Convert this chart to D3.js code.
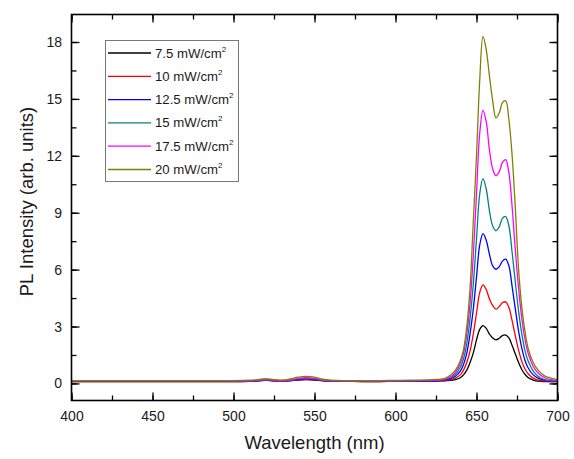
<!DOCTYPE html>
<html><head><meta charset="utf-8">
<script src="https://cdn.jsdelivr.net/npm/d3@7/dist/d3.min.js"></script>
<style>body{margin:0;background:#fff}svg{display:block}text{font-family:"Liberation Sans",Arial,sans-serif}</style>
</head><body><svg id="c" width="574" height="459"></svg>
<script>
const wavelengths = [400,420,440,460,480,500,510,515,520,525,530,535,540,545,550,555,560,570,580,590,600,610,620,625,
  630,634,637,640,642,644,646,648,650,652,654,656,658,660,662,664,666,668,670,672,674,676,678,680,682,685,688,692,696,700];
const seriesNames = ["7.5 mW/cm","10 mW/cm","12.5 mW/cm","15 mW/cm","17.5 mW/cm","20 mW/cm"];
const seriesColors = ["#000000","#ff0000","#0000ff","#008080","#ff00ff","#808000"];
const s75 = [0.1,0.1,0.1,0.1,0.1,0.1,0.11,0.13,0.16,0.13,0.12,0.14,0.18,0.2,0.18,0.14,0.12,0.11,0.1,0.1,0.11,0.11,0.12,0.12,
  0.13,0.16,0.2,0.3,0.45,0.7,1.1,1.6,2.3,2.85,3.05,2.9,2.6,2.4,2.3,2.38,2.52,2.55,2.4,2.0,1.55,1.1,0.72,0.47,0.3,0.18,0.12,0.1,0.1,0.1];
const s10 = [0.1,0.1,0.1,0.1,0.1,0.1,0.11,0.14,0.17,0.14,0.12,0.15,0.2,0.22,0.2,0.15,0.12,0.11,0.1,0.1,0.11,0.12,0.12,0.13,
  0.15,0.2,0.28,0.45,0.7,1.1,1.7,2.6,3.7,4.8,5.2,4.95,4.45,4.1,3.92,4.05,4.25,4.3,4.0,3.3,2.5,1.75,1.15,0.75,0.5,0.28,0.18,0.12,0.1,0.1];
const s125 = [0.11,0.11,0.11,0.11,0.11,0.11,0.12,0.15,0.18,0.15,0.13,0.16,0.22,0.25,0.22,0.16,0.13,0.12,0.11,0.11,0.12,0.13,0.13,0.14,
  0.17,0.25,0.38,0.65,1.0,1.6,2.6,3.9,5.6,7.3,7.9,7.55,6.8,6.2,6.02,6.15,6.45,6.55,6.2,5.1,3.9,2.75,1.85,1.2,0.8,0.45,0.28,0.16,0.12,0.12];
const s15 = [0.12,0.12,0.12,0.12,0.12,0.12,0.13,0.16,0.19,0.16,0.14,0.17,0.24,0.28,0.24,0.17,0.14,0.13,0.12,0.12,0.13,0.14,0.15,0.16,
  0.2,0.3,0.48,0.85,1.3,2.1,3.4,5.2,7.6,10.0,10.8,10.25,9.1,8.3,8.05,8.25,8.7,8.8,8.3,6.9,5.3,3.8,2.6,1.7,1.15,0.65,0.38,0.2,0.15,0.14];
const s175 = [0.13,0.13,0.13,0.13,0.13,0.13,0.14,0.17,0.2,0.17,0.15,0.18,0.27,0.3,0.27,0.18,0.15,0.14,0.13,0.13,0.14,0.15,0.16,0.18,
  0.22,0.35,0.58,1.05,1.6,2.6,4.2,6.7,10.0,13.2,14.4,13.8,12.3,11.3,10.95,11.15,11.65,11.8,11.1,9.3,7.0,5.0,3.4,2.3,1.55,0.9,0.55,0.3,0.2,0.16];
const s20 = [0.15,0.15,0.15,0.15,0.15,0.15,0.17,0.2,0.25,0.2,0.18,0.24,0.33,0.37,0.33,0.22,0.17,0.15,0.15,0.15,0.16,0.17,0.19,0.21,
  0.25,0.45,0.7,1.2,1.8,3.0,5.0,8.5,12.0,16.0,18.3,17.6,16.2,14.9,14.0,14.25,14.8,14.9,13.9,12.0,9.2,6.0,4.0,2.7,1.8,1.1,0.7,0.4,0.28,0.2];
const seriesValues = [s75,s10,s125,s15,s175,s20];
const xTicks = [400,450,500,550,600,650,700];
const yTicks = [0,3,6,9,12,15,18];

const svg = d3.select("#c");
const L=71.5, R=557.5, T=14.5, B=400.5;
const x = d3.scaleLinear().domain([400,700]).range([L,R]);
const y = d3.scaleLinear().domain([-0.9,19.45]).range([B,T]);

const plot = svg.append("g");
plot.append("defs").append("clipPath").attr("id","clip").append("rect")
  .attr("x",L).attr("y",T).attr("width",R-L).attr("height",B-T);
const line = d3.line().x((d,i)=>x(wavelengths[i])).y(d=>y(d)).curve(d3.curveCatmullRom.alpha(0.5));
seriesValues.forEach((vals,k)=>{
  plot.append("path").attr("d",line(vals)).attr("fill","none")
    .attr("stroke",seriesColors[k]).attr("stroke-width",1.3).attr("clip-path","url(#clip)");
});

const minorX = d3.range(400,701,25);
const minorY = d3.range(0,19.5,1.5);
const gB = svg.append("g").attr("transform",`translate(0,${B})`)
  .call(d3.axisBottom(x).tickValues(xTicks).tickSize(-8).tickPadding(10.5).tickFormat(d3.format("d")));
const gT = svg.append("g").attr("transform",`translate(0,${T})`)
  .call(d3.axisTop(x).tickValues(xTicks).tickSize(-8).tickFormat(""));
const gL = svg.append("g").attr("transform",`translate(${L},0)`)
  .call(d3.axisLeft(y).tickValues(yTicks).tickSize(-8).tickPadding(9.5).tickFormat(d3.format("d")));
const gR = svg.append("g").attr("transform",`translate(${R},0)`)
  .call(d3.axisRight(y).tickValues(yTicks).tickSize(-8).tickFormat(""));
const mB = svg.append("g").attr("transform",`translate(0,${B})`)
  .call(d3.axisBottom(x).tickValues(minorX).tickSize(-5).tickFormat(""));
const mT = svg.append("g").attr("transform",`translate(0,${T})`)
  .call(d3.axisTop(x).tickValues(minorX).tickSize(-5).tickFormat(""));
const mL = svg.append("g").attr("transform",`translate(${L},0)`)
  .call(d3.axisLeft(y).tickValues(minorY).tickSize(-5).tickFormat(""));
const mR = svg.append("g").attr("transform",`translate(${R},0)`)
  .call(d3.axisRight(y).tickValues(minorY).tickSize(-5).tickFormat(""));
[gB,gT,gL,gR,mB,mT,mL,mR].forEach(g=>{
  g.select(".domain").remove();
  g.selectAll(".tick line").attr("stroke","#000").attr("stroke-width",1.3);
  g.selectAll("text").attr("font-size",14).attr("fill","#1a1a1a").attr("font-family","Liberation Sans, Arial, sans-serif");
});
svg.append("rect").attr("x",L).attr("y",T).attr("width",R-L).attr("height",B-T)
  .attr("fill","none").attr("stroke","#000").attr("stroke-width",1.6);

svg.append("text").attr("x",(L+R)/2).attr("y",449).attr("text-anchor","middle")
  .attr("font-size",18.5).attr("fill","#1a1a1a").text("Wavelength (nm)");
svg.append("text").attr("transform",`translate(33,201.5) rotate(-90)`).attr("text-anchor","middle")
  .attr("font-size",18.5).attr("fill","#1a1a1a").text("PL Intensity (arb. units)");

const lg = svg.append("g");
lg.append("rect").attr("x",105.5).attr("y",40.5).attr("width",133).attr("height",141)
  .attr("fill","#fff").attr("stroke","#777").attr("stroke-width",1);
seriesNames.forEach((n,k)=>{
  const yy = 53 + k*23.3;
  lg.append("line").attr("x1",108).attr("x2",151).attr("y1",yy).attr("y2",yy)
    .attr("stroke",seriesColors[k]).attr("stroke-width",1.3);
  const t = lg.append("text").attr("x",155).attr("y",yy+4.5).attr("font-size",13.2).attr("fill","#1a1a1a");
  t.append("tspan").text(n);
  t.append("tspan").attr("dy",-6).attr("font-size",8).text("2");
});
</script></body></html>
